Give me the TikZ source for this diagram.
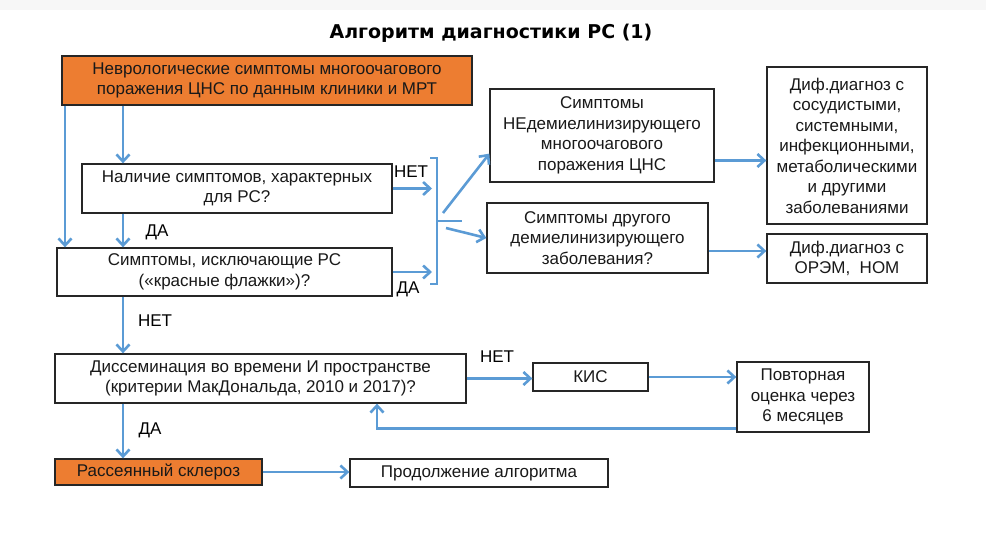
\documentclass[tikz,border=0pt]{standalone}
\usepackage{fontspec}
\setmainfont{Liberation Sans}
\newfontfamily\titlefont{DejaVu Sans}
\usetikzlibrary{arrows.meta,positioning}

\definecolor{orgfill}{HTML}{ED7D31}
\definecolor{arrblue}{HTML}{5B9BD5}

\begin{document}
\begin{tikzpicture}[
    x=1pt, y=-1pt,
    font=\fontsize{17}{20.5}\selectfont,
    block/.style={draw=black!85, line width=1.3pt, fill=white, align=center, inner sep=0pt, text=black!90},
    accent/.style={block, fill=orgfill},
    arrow/.style={-{Straight Barb[length=7pt,width=13pt]}, arrblue, line width=2.6pt},
    link/.style={arrblue, line width=2.6pt},
    lbl/.style={inner sep=0pt, text=black}
]
\useasboundingbox (0,0) rectangle (986,541);
\fill[black!3] (0,0) rectangle (986,10);

\node[font=\titlefont\bfseries\fontsize{19}{22}\selectfont] (title) at (491,33) {Алгоритм диагностики РС (1)};

% left column
\node[accent, minimum width=410pt, minimum height=49pt] (neuro) at (267,80.5) {Неврологические симптомы многоочагового\\поражения ЦНС по данным клиники и МРТ};
\node[block, minimum width=310pt, minimum height=49pt] (nalich) at (237,188.5) {Наличие симптомов, характерных\\для РС?};
\node[block, minimum width=335pt, minimum height=48pt] (iskl) at (224.5,272) {Симптомы, исключающие РС\\(«красные флажки»)?};
\node[block, minimum width=411pt, minimum height=49pt] (dissem) at (260.5,378.5) {Диссеминация во времени И пространстве\\(критерии МакДональда, 2010 и 2017)?};
\node[accent, minimum width=207pt, minimum height=26pt] (rs) at (158.5,472) {Рассеянный склероз};
\node[block, minimum width=258pt, minimum height=28pt] (prod) at (479,473) {Продолжение алгоритма};

% right part
\node[block, minimum width=224pt, minimum height=93pt] (nedem) at (602,135.5) {Симптомы\\НЕдемиелинизирующего\\многоочагового\\поражения ЦНС};
\node[block, minimum width=221pt, minimum height=70pt] (drug) at (597.5,238) {Симптомы другого\\демиелинизирующего\\заболевания?};
\node[block, minimum width=160pt, minimum height=157pt] (difA) at (847,145.5) {Диф.диагноз с\\сосудистыми,\\системными,\\инфекционными,\\метаболическими\\и другими\\заболеваниями};
\node[block, minimum width=160pt, minimum height=49pt] (difB) at (847,258.5) {Диф.диагноз с\\ОРЭМ,~ НОМ};
\node[block, minimum width=115pt, minimum height=28pt] (kis) at (590.5,377) {КИС};
\node[block, minimum width=132pt, minimum height=70pt] (povt) at (803,397) {Повторная\\оценка через\\6 месяцев};

% helper coordinates
\coordinate (spine) at (123,0);
\coordinate (lspine) at (65,0);
\coordinate (hook) at (432,0);
\coordinate (bt) at (437,158);
\coordinate (bb) at (437,284);
\coordinate (ret) at (377,0);

\draw[arrow] (neuro.south -| spine) -- (nalich.north -| spine);
\draw[arrow] (neuro.south -| lspine) -- (iskl.north -| lspine);
\draw[arrow] (nalich.south -| spine) -- (iskl.north -| spine);
\draw[arrow] (iskl.south -| spine) -- (dissem.north -| spine);
\draw[arrow] (dissem.south -| spine) -- (rs.north -| spine);
\draw[arrow] (rs.east) -- (rs.east -| prod.west);

% bracket
\draw[link] ([xshift=-7pt]bt) -- (bt) -- (bb) -- ([xshift=-7pt]bb);
\draw[link] (437,221) -- (462,221);
\draw[arrow] (nalich.east) -- (nalich.east -| hook);
\draw[arrow] (iskl.east) -- (iskl.east -| hook);
\draw[arrow] (443,213) -- ([yshift=29pt]nedem.south west);
\draw[arrow] (446,228) -- (drug.west);

\draw[arrow] ([yshift=-25pt]nedem.east) -- ([yshift=-25pt]nedem.east -| difA.west);
\draw[arrow] ([yshift=-13pt]drug.east) -- ([yshift=-13pt]drug.east -| difB.west);

\draw[arrow] (dissem.east) -- (dissem.east -| kis.west);
\draw[arrow] (kis.east) -- (kis.east -| povt.west);
\draw[arrow] ([yshift=4pt]povt.south west) -| (ret |- dissem.south);

% labels
\node[lbl] (l1) at (411,172) {НЕТ};
\node[lbl] (l2) at (157,232) {ДА};
\node[lbl] (l3) at (408,289) {ДА};
\node[lbl] (l4) at (155,321) {НЕТ};
\node[lbl] (l5) at (497,357) {НЕТ};
\node[lbl] (l6) at (150,430) {ДА};
\end{tikzpicture}
\end{document}
